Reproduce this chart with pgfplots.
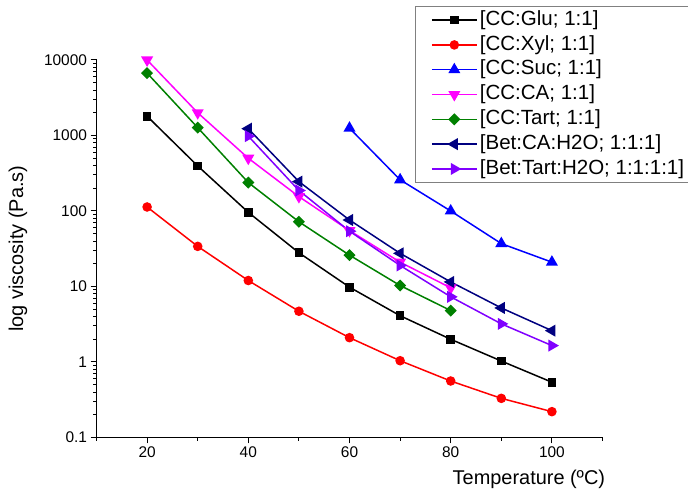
\documentclass[border=0pt]{standalone}
\usepackage{pgfplots}
\pgfplotsset{compat=1.18}
\usepackage{fontspec}
\setmainfont{Liberation Sans}
\definecolor{cnavy}{RGB}{0,0,128}
\definecolor{cviolet}{RGB}{128,0,255}
\definecolor{cgreen}{RGB}{0,128,0}
\definecolor{cmag}{RGB}{255,0,255}
\begin{document}
\begin{tikzpicture}[x=1bp,y=1bp]
\path[use as bounding box] (0,0) rectangle (688,492);
\begin{axis}[
  at={(96.5bp,54.5bp)}, anchor=south west,
  width=506bp, height=377.5bp, scale only axis,
  xmin=10, xmax=110, ymode=log, ymin=0.1, ymax=10000,
  axis x line*=bottom, axis y line*=left,
  axis line style={-, line width=1.1bp},
  every outer x axis line/.append style={-},
  every outer y axis line/.append style={-},
  xtick={20,40,60,80,100}, minor xtick={10,30,50,70,90,110},
  ytick={0.1,1,10,100,1000,10000},
  yticklabels={0.1,1,10,100,1000,10000},
  tick align=outside, major tick length=6bp, minor tick length=3.5bp,
  tick style={black, line width=1bp},
  /pgf/number format/assume math mode=true,
  tick label style={font=\fontsize{15.5}{18}\selectfont},
  xlabel={Temperature (ºC)},
  xlabel style={font=\fontsize{20}{24}\selectfont, at={(axis description cs:1.012,-0.11)}, anchor=east},
  ylabel={log viscosity (Pa.s)},
  ylabel style={font=\fontsize{20}{24}\selectfont, at={(axis description cs:-0.155,0.5)}, anchor=center},
  clip=false,
  every axis plot/.append style={line width=1.5bp},
  legend style={at={(axis description cs:0.629,1.144)}, anchor=north west,
    draw=gray, line width=1.2bp, font=\fontsize{20.6}{24}\selectfont,
    inner xsep=2bp, inner ysep=1.5bp,
    nodes={text height=15.2bp, text depth=5bp, inner sep=2.3bp}},
  legend cell align=left,
  legend image code/.code={\path (0bp,0bp); \draw[mark repeat=2,mark phase=2,#1] plot coordinates {(13.7bp,0bp) (36.2bp,0bp) (58.7bp,0bp)};},
]
\addplot[black, mark=square*, mark size=3.6bp] coordinates {(20,1800)(30,395)(40,96)(50,28)(60,9.8)(70,4.1)(80,2.0)(90,1.03)(100,0.54)};
\addlegendentry{[CC:Glu; 1:1]}
\addplot[red, mark=*, mark size=4bp] coordinates {(20,113)(30,34)(40,12)(50,4.7)(60,2.1)(70,1.04)(80,0.56)(90,0.33)(100,0.22)};
\addlegendentry{[CC:Xyl; 1:1]}
\addplot[blue, mark=triangle*, mark size=5.5bp] coordinates {(60,1250)(70,259)(80,100)(90,37)(100,21)};
\addlegendentry{[CC:Suc; 1:1]}
\addplot[cmag, mark=triangle*, mark size=5.5bp, mark options={rotate=180}] coordinates {(20,10000)(30,2000)(40,500)(50,155)(60,55)(70,21)(80,9.6)};
\addlegendentry{[CC:CA; 1:1]}
\addplot[cgreen, mark=square*, mark size=3.5bp, mark options={rotate=45}] coordinates {(20,6700)(30,1270)(40,238)(50,72)(60,26)(70,10.3)(80,4.8)};
\addlegendentry{[CC:Tart; 1:1]}
\addplot[cnavy, mark=triangle*, mark size=5.5bp, mark options={rotate=90}] coordinates {(40,1230)(50,245)(60,76)(70,27.5)(80,11.5)(90,5.2)(100,2.6)};
\addlegendentry{[Bet:CA:H2O; 1:1:1]}
\addplot[cviolet, mark=triangle*, mark size=5.5bp, mark options={rotate=-90}] coordinates {(40,980)(50,187)(60,54)(70,19)(80,7.3)(90,3.2)(100,1.65)};
\addlegendentry{[Bet:Tart:H2O; 1:1:1:1]}
\end{axis}
\end{tikzpicture}
\end{document}
